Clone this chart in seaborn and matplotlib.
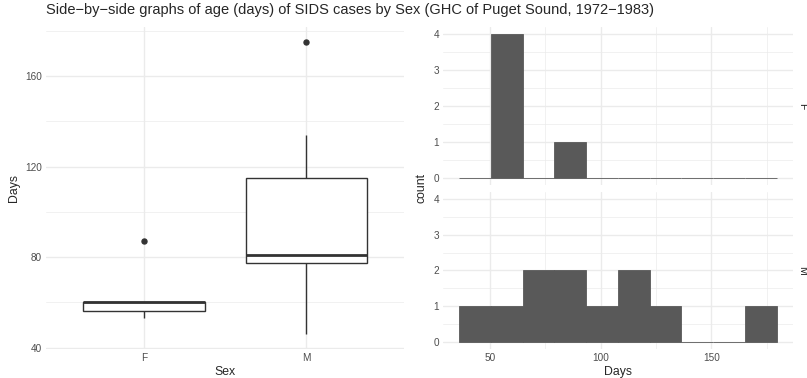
import numpy as np
import pandas as pd
import matplotlib
matplotlib.use('Agg')
import matplotlib.pyplot as plt
import seaborn as sns
from matplotlib.ticker import MultipleLocator

# Age (days) of SIDS cases
f_days = [53, 56, 60, 60, 87]
m_days = [46, 60, 77, 78, 80, 81, 100, 112, 118, 134, 175]
sexes = ['F', 'M']
# histogram bin edges as drawn in the reference
bin_edges = [36.0, 50.4, 64.8, 79.1, 93.5, 107.8, 122.2, 136.5, 150.9, 165.2, 179.6]

GRID = '#EBEBEB'
TICK = '#4D4D4D'
DARK = '#333333'
FILL = '#595959'

df = pd.DataFrame({
    'Sex': ['F'] * len(f_days) + ['M'] * len(m_days),
    'Days': f_days + m_days,
})

sns.set_theme(style='white')
plt.rcParams['font.family'] = ['Liberation Sans', 'DejaVu Sans']


def style_axes(ax):
    for s in ax.spines.values():
        s.set_visible(False)
    ax.set_axisbelow(True)
    ax.grid(which='major', color=GRID, linewidth=1.0)
    ax.grid(which='minor', color=GRID, linewidth=0.5)
    ax.tick_params(which='both', length=0, labelsize=7.2, labelcolor=TICK, pad=3)


fig = plt.figure(figsize=(8.07, 3.78), dpi=100)

# Left: boxplot
ax_box = fig.add_axes([0.0575, 0.0775, 0.4431, 0.850])
sns.boxplot(data=df, x='Sex', y='Days', order=sexes, ax=ax_box, width=0.75,
            color='white', linecolor=DARK, linewidth=1.0, showcaps=False,
            whis=1.5, fliersize=3.6,
            medianprops={'linewidth': 2.0, 'color': DARK},
            flierprops={'marker': 'o', 'markerfacecolor': DARK,
                        'markeredgecolor': DARK})
style_axes(ax_box)
ax_box.set_xlim(-0.6, 1.6)
ax_box.set_ylim(39.55, 181.45)
ax_box.yaxis.set_major_locator(MultipleLocator(40))
ax_box.yaxis.set_minor_locator(MultipleLocator(20))
ax_box.set_xlabel('Sex', fontsize=8.8, labelpad=2)
ax_box.set_ylabel('Days', fontsize=8.8, labelpad=4)

# Right: faceted histograms
ax_f = fig.add_axes([0.549, 0.510, 0.4337, 0.419])
ax_m = fig.add_axes([0.549, 0.0772, 0.4337, 0.415], sharex=ax_f)

for ax, sex in [(ax_f, 'F'), (ax_m, 'M')]:
    sns.histplot(data=df[df['Sex'] == sex], x='Days', bins=bin_edges, ax=ax,
                 color=FILL, edgecolor=FILL, linewidth=0.6, alpha=1)
    style_axes(ax)
    ax.set_xlim(28.8, 186.9)
    ax.set_ylim(-0.2, 4.2)
    ax.xaxis.set_major_locator(MultipleLocator(50))
    ax.xaxis.set_minor_locator(MultipleLocator(25))
    ax.yaxis.set_major_locator(MultipleLocator(1))
    ax.yaxis.set_minor_locator(MultipleLocator(0.5))
    ax.set_ylabel('')
    ax.text(1.025, 0.5, sex, transform=ax.transAxes, rotation=-90,
            ha='center', va='center', fontsize=7.5, color='#1A1A1A')

ax_f.tick_params(labelbottom=False)
ax_f.set_xlabel('')
ax_m.set_xlabel('Days', fontsize=8.8, labelpad=2)
fig.text(421 / 807, 1 - 188 / 378, 'count', rotation=90, ha='center',
         va='center', fontsize=8.8)

fig.text(46 / 807, 1 - 10 / 378,
         'Side\u2212by\u2212side graphs of age (days) of SIDS cases by Sex '
         '(GHC of Puget Sound, 1972\u22121983)',
         ha='left', va='center', fontsize=10.5)

fig.savefig('out.png', dpi=100)
